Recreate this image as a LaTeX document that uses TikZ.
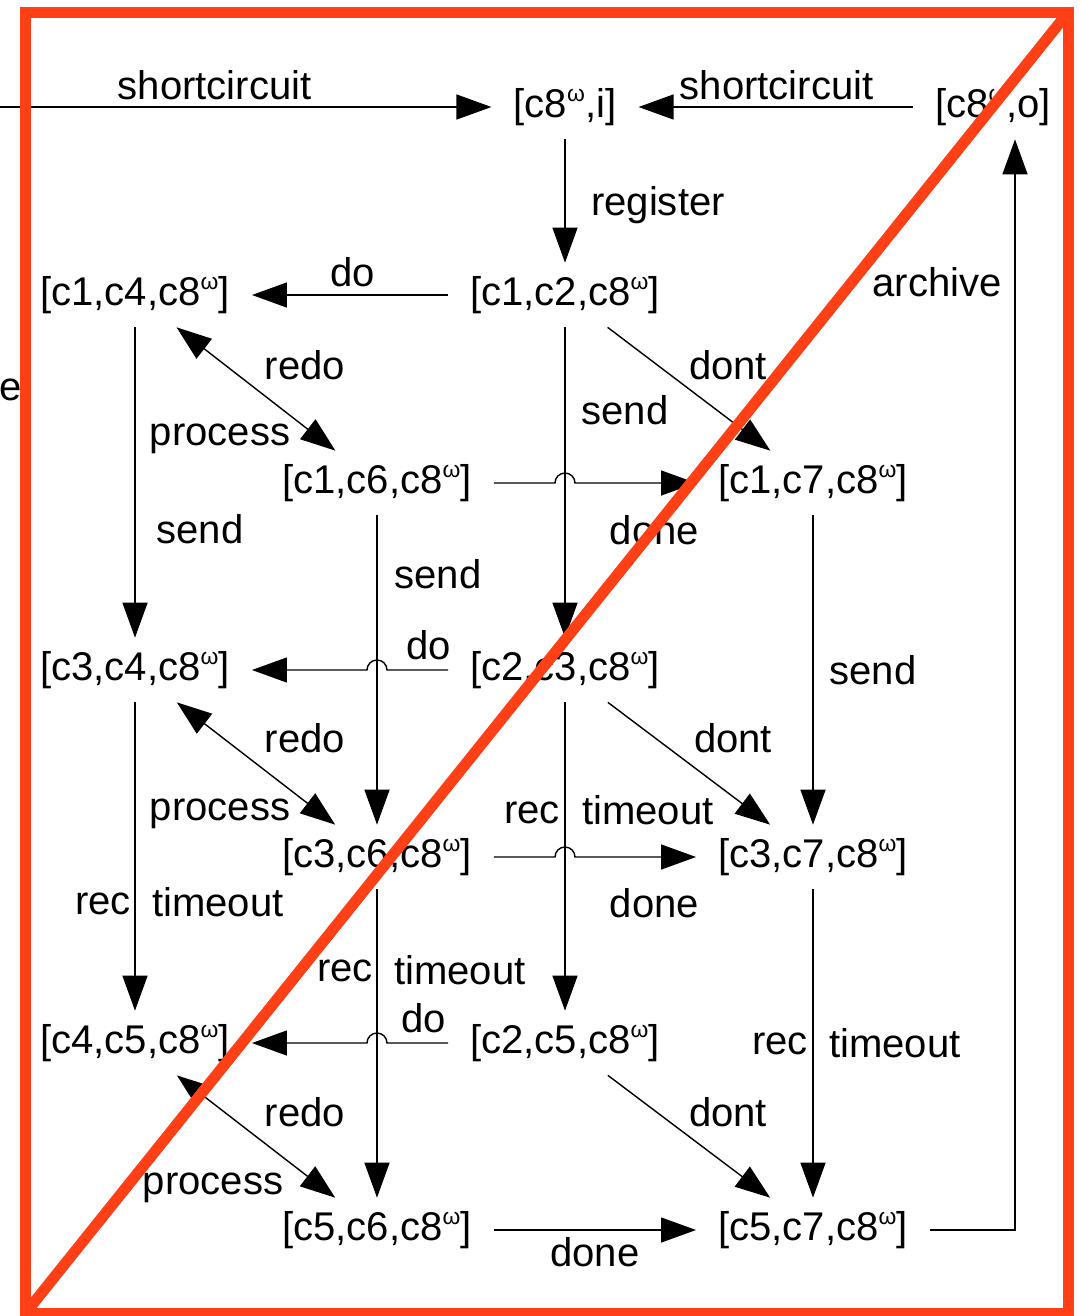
\documentclass[tikz,border=0pt]{standalone}
\usepackage{fontspec}
\setmainfont{Liberation Sans}
\usetikzlibrary{arrows.meta, calc, positioning}
\definecolor{redorange}{RGB}{255,64,22}
\newcommand{\om}{\raisebox{9pt}{\fontsize{13}{13}\selectfont ω}}

\begin{document}
\begin{tikzpicture}[x=0.02cm, y=0.02cm, font=\fontsize{22.8}{27}\selectfont,
	st/.style={inner xsep=0.44cm, inner ysep=0pt, minimum height=1.28cm},
	lbl/.style={inner sep=0pt},
	arr/.style={-{Triangle[length=0.7cm,width=0.5cm]}, line width=0.8pt},
	barr/.style={{Triangle[length=0.7cm,width=0.5cm]}-{Triangle[length=0.7cm,width=0.5cm]}, line width=0.8pt},
	frame/.style={draw=redorange, line width=0.22cm}]

	\useasboundingbox (0,0) rectangle (1080,-1316);

	\coordinate (src) at (0,-107);
	\node[st] (c8i) at (565,-107) {[c8\om,i]};
	\node[st] (c8o) at (993,-107) {[c8\om,o]};
	\node[st] (c12) at (565,-295) {[c1,c2,c8\om]};
	\node[st] (c14) at (135,-295) {[c1,c4,c8\om]};
	\node[st] (c16) at (377,-483) {[c1,c6,c8\om]};
	\node[st] (c17) at (813,-483) {[c1,c7,c8\om]};
	\node[st] (c34) at (135,-670) {[c3,c4,c8\om]};
	\node[st] (c23) at (565,-670) {[c2,c3,c8\om]};
	\node[st] (c36) at (377,-857) {[c3,c6,c8\om]};
	\node[st] (c37) at (813,-857) {[c3,c7,c8\om]};
	\node[st] (c45) at (135,-1043) {[c4,c5,c8\om]};
	\node[st] (c25) at (565,-1043) {[c2,c5,c8\om]};
	\node[st] (c56) at (377,-1230) {[c5,c6,c8\om]};
	\node[st] (c57) at (813,-1230) {[c5,c7,c8\om]};
	\node (frag) at (11,-390) {e};

	% top row
	\draw[arr] (src) -- node[lbl, shift={(-31,22)}] {shortcircuit} (c8i);
	\draw[arr] (c8o) -- node[lbl, shift={(1,22)}] {shortcircuit} (c8i);
	\draw[arr] (c8i) -- node[lbl, shift={(93,-4)}] {register} (c12);

	% first block
	\draw[arr] (c12) -- node[lbl, shift={(3,23)}] {do} (c14);
	\draw[barr] (c14) -- node[lbl, shift={(49,24)}] {redo} node[lbl, shift={(-36,-50)}] {process} (c16);
	\draw[arr] (c12) -- node[lbl, shift={(39,24)}] {dont} (c17);
	\draw[arr] (c12) -- node[lbl, shift={(60,72)}] {send} (c23);
	\draw[arr] (c14) -- node[lbl, shift={(65,-47)}] {send} (c34);
	\draw[arr] (c16) -- node[lbl, shift={(61,96)}] {send} (c36);
	\draw[arr] (c17) -- node[lbl, shift={(60,0)}] {send} (c37);
	\draw[arr] (c16) -- ($(c12|-c16)+(-10,0)$) arc (180:0:10) -- node[lbl, shift={(19,-47)}] {done} (c17);

	% second block
	\draw[arr] (c23) -- node[lbl, shift={(11,25)}] {do} ($(c16|-c23)+(10,0)$) arc (0:180:10) -- (c34);
	\draw[barr] (c34) -- node[lbl, shift={(49,25)}] {redo} node[lbl, shift={(-36,-50)}] {process} (c36);
	\draw[arr] (c23) -- node[lbl, shift={(44,25)}] {dont} (c37);
	\draw[arr] (c23) -- node[lbl, shift={(-33,44)}] {rec} node[lbl, shift={(83,46)}] {timeout} (c25);
	\draw[arr] (c34) -- node[lbl, shift={(-32,-47)}] {rec} node[lbl, shift={(83,-46)}] {timeout} (c45);
	\draw[arr] (c36) -- node[lbl, shift={(-32,73)}] {rec} node[lbl, shift={(83,73)}] {timeout} (c56);
	\draw[arr] (c37) -- node[lbl, shift={(-33,0)}] {rec} node[lbl, shift={(82,0)}] {timeout} (c57);
	\draw[arr] (c36) -- ($(c23|-c36)+(-10,0)$) arc (180:0:10) -- node[lbl, shift={(19,-46)}] {done} (c37);

	% third block
	\draw[arr] (c25) -- node[lbl, shift={(6,25)}] {do} ($(c36|-c25)+(10,0)$) arc (0:180:10) -- (c45);
	\draw[barr] (c45) -- node[lbl, shift={(49,24)}] {redo} node[lbl, shift={(-43,-51)}] {process} (c56);
	\draw[arr] (c25) -- node[lbl, shift={(39,24)}] {dont} (c57);
	\draw[arr] (c56) -- node[lbl, shift={(0,-22)}] {done} (c57);
	\draw[arr] (c57) -| node[lbl, pos=0.94, shift={(-78,-12)}] {archive} ($(c8o.south)+(22,0)$);

	% crossed-out frame
	\draw[frame] (25.5,-12.5) rectangle (1068,-1313);
	\draw[frame] (25.5,-1313) -- (1068,-12.5);
\end{tikzpicture}
\end{document}
